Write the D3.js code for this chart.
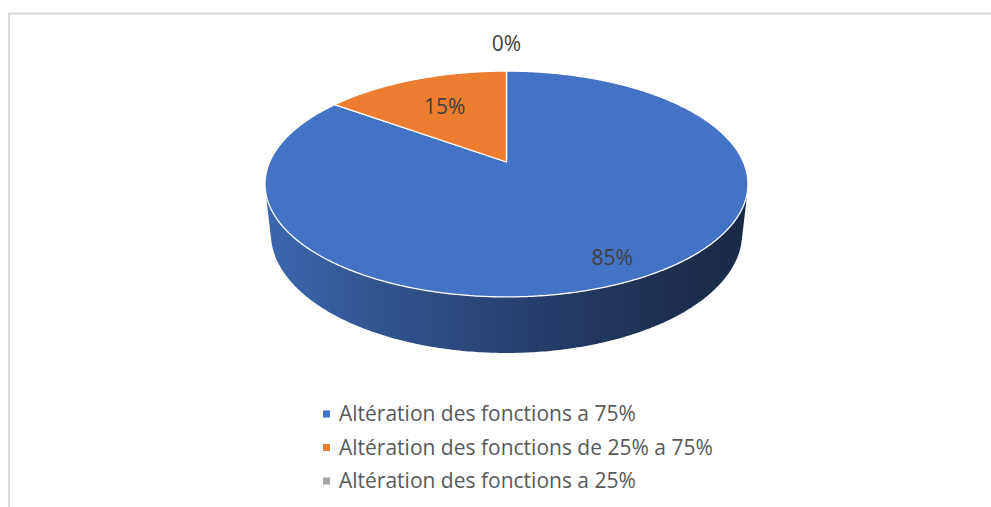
<!DOCTYPE html>
<html>
<head>
<meta charset="utf-8">
<script src="https://cdn.jsdelivr.net/npm/d3@7"></script>
<style>
  body { margin: 0; background: #fff; }
  svg { display: block; }
</style>
</head>
<body>
<div id="chart"></div>
<script>
var categories = ["Altération des fonctions a 75%", "Altération des fonctions de 25% a 75%", "Altération des fonctions a 25%"];
var values = [85, 15, 0];
var labels = ["85%", "15%", "0%"];
var colors = ["#4472C4", "#ED7D31", "#A5A5A5"];

var width = 991, height = 507;

// 3d view of the pie: tilt, camera distance, focal length, thickness
var tilt = 27.3 * Math.PI / 180,
    ct = Math.cos(tilt), st = Math.sin(tilt),
    camD = 4.562, focal = 1080.5, depth = 0.236,
    cx = 506.5, cy = 162;

function project(theta, r, w) {
  var u = r * Math.sin(theta), v = r * Math.cos(theta);
  var yc = v * st + w * ct;
  var zc = camD + v * ct - w * st;
  return [cx + focal * u / zc, cy - focal * yc / zc];
}

var svg = d3.select("#chart").append("svg")
    .attr("width", width)
    .attr("height", height);

// chart frame
svg.append("path")
    .attr("d", "M9,507V13.5H991")
    .attr("fill", "none")
    .attr("stroke", "#d9d9d9")
    .attr("stroke-width", 2);

var pie = d3.pie().sort(null).value(function(d) { return d; });
var arcs = pie(values);

var line = d3.line();

function arcPoints(a0, a1, r, w) {
  var n = Math.max(2, Math.ceil(Math.abs(a1 - a0) / 0.01));
  return d3.range(n + 1).map(function(i) {
    return project(a0 + (a1 - a0) * i / n, r, w);
  });
}

// side wall gradient
var defs = svg.append("defs");
var leftX = project(-Math.PI / 2, 1, 0)[0] - 3, rightX = project(Math.PI / 2, 1, 0)[0] + 3;
var shade = [[0, 0.3], [0.32, 1.08], [0.65, 1.94], [0.85, 2.5], [1, 2.8]];
colors.forEach(function(c, i) {
  var g = defs.append("linearGradient")
      .attr("id", "side" + i)
      .attr("gradientUnits", "userSpaceOnUse")
      .attr("x1", leftX).attr("x2", rightX)
      .attr("y1", 0).attr("y2", 0);
  shade.forEach(function(s) {
    g.append("stop")
        .attr("offset", s[0])
        .attr("stop-color", d3.color(c).darker(s[1]).formatHex());
  });
});

// visible part of the outer wall (faces the camera)
var visA = Math.acos(-1 / (camD * ct));
var visB = 2 * Math.PI - visA;

var walls = svg.append("g");
arcs.forEach(function(d, i) {
  var b0 = Math.max(d.startAngle, visA), b1 = Math.min(d.endAngle, visB);
  if (b1 <= b0) return;
  var pts = arcPoints(b0, b1, 1, 0).concat(arcPoints(b1, b0, 1, -depth));
  walls.append("path")
      .attr("d", line(pts) + "Z")
      .attr("fill", "url(#side" + i + ")");
});

// top faces
var tops = svg.append("g");
arcs.forEach(function(d, i) {
  if (d.endAngle - d.startAngle <= 0) return;
  var pts = [project(0, 0, 0)].concat(arcPoints(d.startAngle, d.endAngle, 1, 0));
  tops.append("path")
      .attr("d", line(pts) + "Z")
      .attr("fill", colors[i])
      .attr("stroke", "#fff")
      .attr("stroke-width", 1.3)
      .attr("stroke-linejoin", "round");
});

// data labels
var labelR = function(d) {
  if (d.value === 0) return 1.39;
  return d.value > 50 ? 0.84 : 0.64;
};
svg.append("g").selectAll("text")
    .data(arcs)
  .enter().append("text")
    .attr("x", function(d) { return project((d.startAngle + d.endAngle) / 2, labelR(d), 0)[0]; })
    .attr("y", function(d) { return project((d.startAngle + d.endAngle) / 2, labelR(d), 0)[1]; })
    .attr("dy", "0.36em")
    .attr("text-anchor", "middle")
    .style("font-family", "'Open Sans', sans-serif")
    .style("font-size", "21px")
    .style("fill", "#404040")
    .text(function(d, i) { return labels[i]; });

// legend
var legend = svg.append("g")
    .attr("transform", "translate(323,414)");
var item = legend.selectAll("g")
    .data(categories)
  .enter().append("g")
    .attr("transform", function(d, i) { return "translate(0," + (i * 33.5) + ")"; });
item.append("rect")
    .attr("x", 0).attr("y", -3.5)
    .attr("width", 7).attr("height", 7)
    .attr("fill", function(d, i) { return colors[i]; });
item.append("text")
    .attr("x", 16)
    .attr("y", 0)
    .attr("dy", "0.35em")
    .style("font-family", "'Open Sans', sans-serif")
    .style("font-size", "21px")
    .style("fill", "#595959")
    .text(function(d) { return d; });
</script>
</body>
</html>
